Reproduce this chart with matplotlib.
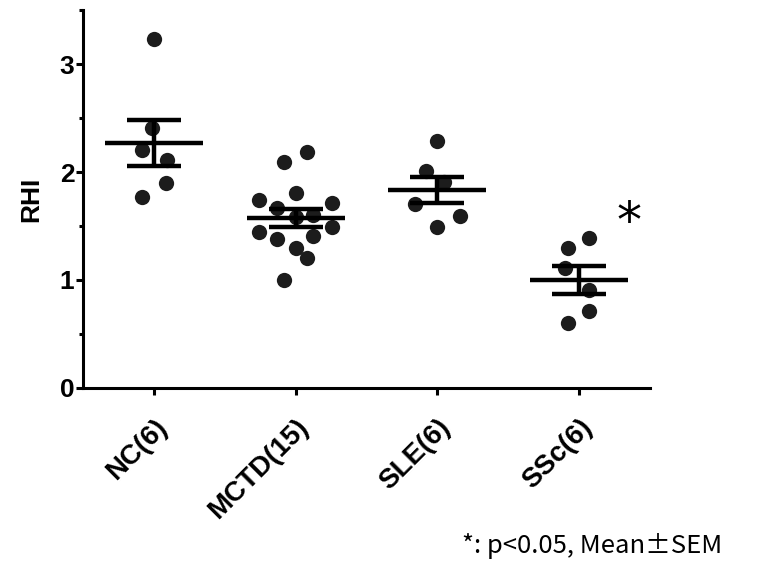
import matplotlib.pyplot as plt
import numpy as np

plt.rcParams['font.family'] = ['Liberation Sans', 'DejaVu Sans']

groups = ["NC(6)", "MCTD(15)", "SLE(6)", "SSc(6)"]
values = [
    [3.23, 2.41, 2.20, 2.11, 1.90, 1.77],
    [2.09, 2.19, 1.81, 1.74, 1.67, 1.71, 1.58, 1.60, 1.44, 1.38, 1.41, 1.49, 1.30, 1.20, 1.00],
    [2.29, 2.01, 1.91, 1.70, 1.59, 1.49],
    [1.39, 1.30, 1.11, 0.91, 0.71, 0.60],
]
# horizontal scatter of the dots (in category units)
offsets = [
    [0.0, -0.01, -0.08, 0.09, 0.085, -0.08],
    [-0.085, 0.08, 0.0, -0.255, -0.13, 0.255, 0.0, 0.12, -0.26, -0.13, 0.12, 0.255, 0.0, 0.08, -0.085],
    [0.0, -0.08, 0.05, -0.16, 0.16, 0.0],
    [0.07, -0.08, -0.1, 0.07, 0.07, -0.08],
]
signif = [False, False, False, True]

fig = plt.figure(figsize=(7.74, 5.67), dpi=100)
ax = fig.add_axes([0.107, 0.316, 0.733, 0.666])

for i, (v, off) in enumerate(zip(values, offsets)):
    v = np.array(v)
    ax.plot(i + np.array(off), v, 'o', color='#1c1c1c', markersize=11,
            markeredgewidth=0, zorder=2)
    m = v.mean()
    sem = v.std(ddof=1) / np.sqrt(len(v))
    ax.hlines(m, i - 0.345, i + 0.345, color='black', lw=3.2, zorder=3)
    ax.hlines([m - sem, m + sem], i - 0.19, i + 0.19, color='black', lw=3.2, zorder=3)
    ax.vlines(i, m - sem, m + sem, color='black', lw=3.2, zorder=3)
    if signif[i]:
        ax.text(i + 0.35, v.mean() + 0.52, '*', fontsize=36, ha='center',
                va='center', fontfamily='DejaVu Sans')

ax.set_xlim(-0.5, 3.5)
ax.set_ylim(0, 3.5)
ax.set_yticks([0, 1, 2, 3])
ax.set_yticks([0.5, 1.5, 2.5, 3.5], minor=True)
ax.set_xticks(range(len(groups)))
ax.set_xticklabels(groups, rotation=45, ha='right', rotation_mode='anchor',
                   fontsize=20, fontweight='bold')
for lab in ax.get_yticklabels():
    lab.set_fontsize(19)
    lab.set_fontweight('bold')
ax.set_ylabel('RHI', fontsize=19, fontweight='bold', labelpad=12)

for s in ['top', 'right']:
    ax.spines[s].set_visible(False)
for s in ['left', 'bottom']:
    ax.spines[s].set_linewidth(2.2)
ax.tick_params(axis='both', which='major', width=2.2, length=5, pad=1)
ax.tick_params(axis='y', which='minor', width=2.2, length=3)
ax.tick_params(axis='x', which='major', pad=14)

fig.text(0.597, 0.024, '*: p<0.05, Mean\u00b1SEM', fontsize=18.5,
         fontfamily=['Noto Sans CJK SC', 'DejaVu Sans'])

fig.savefig('out.png', dpi=100)
